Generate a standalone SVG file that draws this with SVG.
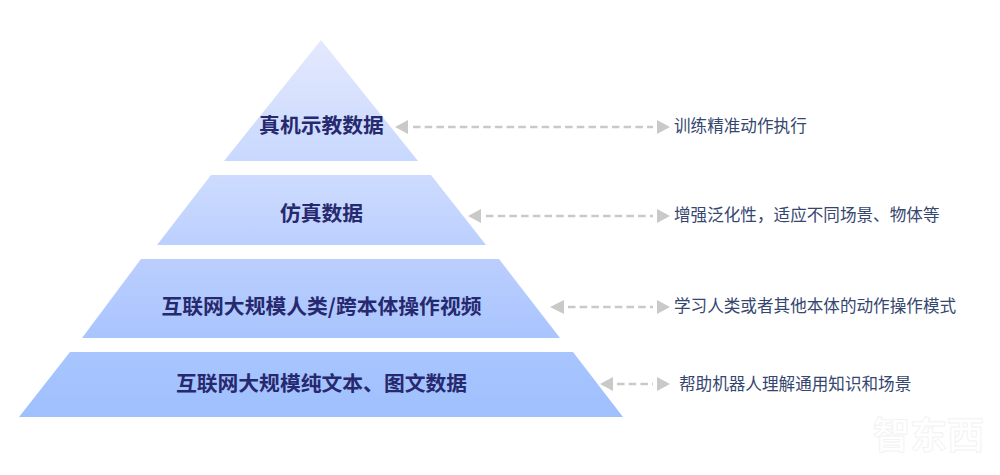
<svg xmlns="http://www.w3.org/2000/svg" width="1000" height="475" viewBox="0 0 1000 475">
<style>
.t{font-family:"Noto Sans CJK SC","Liberation Sans",sans-serif;font-size:20.8px;font-weight:700;fill:#27296f;text-anchor:middle}
.d{font-family:"Noto Sans CJK SC","Liberation Sans",sans-serif;font-size:16.6px;fill:#35466f}
.c{fill:none;stroke:#c9c9c9;stroke-width:2.6;stroke-dasharray:7.5 4.2}
.h{fill:#c9c9c9}
.w{font-family:"Noto Sans CJK SC",sans-serif;font-weight:700;fill:#fff;stroke:#f3f3f3;stroke-width:1}
</style>
<defs>
<linearGradient id="g1" x1="0" y1="0" x2="0" y2="1"><stop offset="0" stop-color="#e4e9fd"/><stop offset="1" stop-color="#c8d8fe"/></linearGradient>
<linearGradient id="g2" x1="0" y1="0" x2="0" y2="1"><stop offset="0" stop-color="#cddbfe"/><stop offset="1" stop-color="#bcd0fe"/></linearGradient>
<linearGradient id="g3" x1="0" y1="0" x2="0" y2="1"><stop offset="0" stop-color="#bbcefe"/><stop offset="1" stop-color="#a9c5fe"/></linearGradient>
<linearGradient id="g4" x1="0" y1="0" x2="0" y2="1"><stop offset="0" stop-color="#a8c5fe"/><stop offset="1" stop-color="#9fc0fe"/></linearGradient>
</defs>
<g id="level1"><polygon points="321,40 418,161 224,161" fill="url(#g1)"/><text class="t" x="321.500" y="133">真机示教数据</text></g>
<g id="level2"><polygon points="211,175 431,175 486,245 157,245" fill="url(#g2)"/><text class="t" x="321.500" y="221">仿真数据</text></g>
<g id="level3"><polygon points="141,259 499,259 560,338 82,338" fill="url(#g3)"/><text class="t" x="321.500" y="314">互联网大规模人类/跨本体操作视频</text></g>
<g id="level4"><polygon points="70,352 573,352 623,417 19,417" fill="url(#g4)"/><text class="t" x="321.500" y="391">互联网大规模纯文本、图文数据</text></g>
<g id="connectors">
<path class="c" d="M413 127H653M486 216H653M568 307H653M617 384H653"/>
<g class="h">
<polygon points="395,127 408,120 408,134"/><polygon points="670,127 657,120 657,134"/>
<polygon points="468,216 481,209 481,223"/><polygon points="670,216 657,209 657,223"/>
<polygon points="550,307 564,300 564,314"/><polygon points="670,307 657,300 657,314"/>
<polygon points="600,384 613,377 613,391"/><polygon points="670,384 657,377 657,391"/>
</g>
</g>
<g id="desc1"><text class="d" x="674" y="132">训练精准动作执行</text></g>
<g id="desc2"><text class="d" x="674" y="221">增强泛化性，适应不同场景、物体等</text></g>
<g id="desc3"><text class="d" x="674" y="312">学习人类或者其他本体的动作操作模式</text></g>
<g id="desc4"><text class="d" x="679" y="390">帮助机器人理解通用知识和场景</text></g>
<g id="watermark"><text class="w" x="873" y="449" font-size="37">智东西</text></g>
</svg>
